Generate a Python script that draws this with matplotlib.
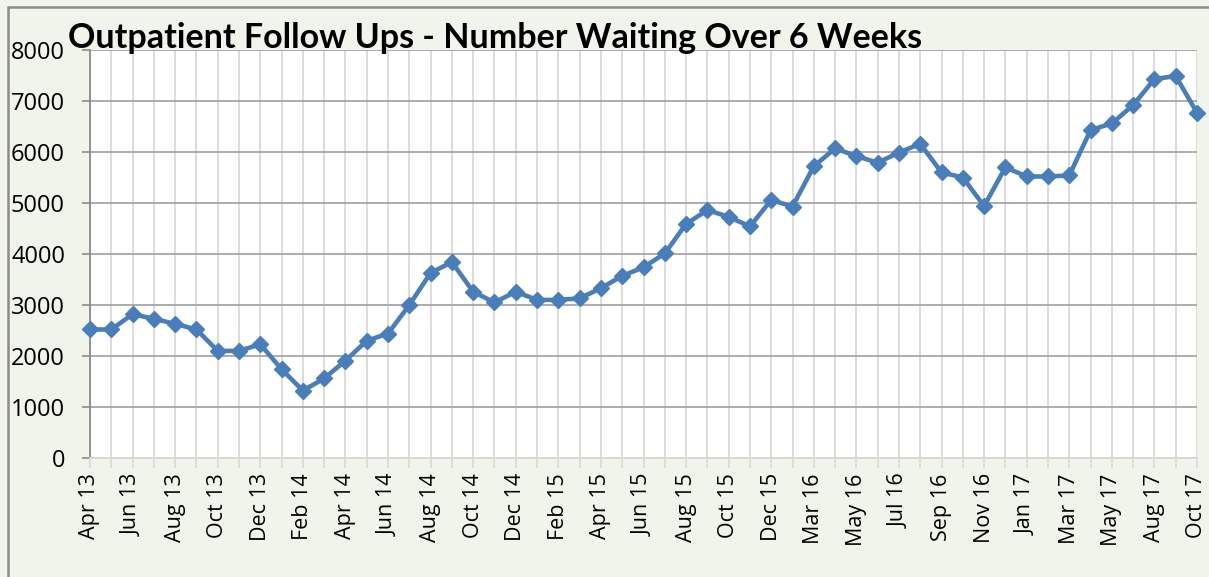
import matplotlib.pyplot as plt
from matplotlib.patches import Rectangle

# Monthly counts of outpatient follow ups waiting over 6 weeks
months = ['Apr 13', 'May 13', 'Jun 13', 'Jul 13', 'Aug 13', 'Sep 13', 'Oct 13', 'Nov 13',
          'Dec 13', 'Jan 14', 'Feb 14', 'Mar 14', 'Apr 14', 'May 14', 'Jun 14', 'Jul 14',
          'Aug 14', 'Sep 14', 'Oct 14', 'Nov 14', 'Dec 14', 'Jan 15', 'Feb 15', 'Mar 15',
          'Apr 15', 'May 15', 'Jun 15', 'Jul 15', 'Aug 15', 'Sep 15', 'Oct 15', 'Nov 15',
          'Dec 15', 'Feb 16', 'Mar 16', 'Apr 16', 'May 16', 'Jun 16', 'Jul 16', 'Aug 16',
          'Sep 16', 'Oct 16', 'Nov 16', 'Dec 16', 'Jan 17', 'Feb 17', 'Mar 17', 'Apr 17',
          'May 17', 'Jul 17', 'Aug 17', 'Sep 17', 'Oct 17']
waiting = [2520, 2520, 2820, 2730, 2630, 2520, 2100, 2100, 2230, 1740,
           1320, 1560, 1910, 2300, 2440, 3000, 3630, 3840, 3260, 3050,
           3260, 3100, 3100, 3130, 3330, 3570, 3740, 4010, 4590, 4860,
           4730, 4540, 5060, 4930, 5720, 6070, 5920, 5790, 5990, 6160,
           5600, 5500, 4940, 5700, 5520, 5520, 5540, 6430, 6560, 6920,
           7430, 7490, 6770]

bg = '#f1f4eb'
blue = '#4a7ebb'

fig = plt.figure(figsize=(12.09, 5.77), dpi=100, facecolor=bg)
fig.patches.append(Rectangle((8 / 1209, -0.1), 1.2, 1.1 - 7 / 577, transform=fig.transFigure,
                             facecolor='none', edgecolor='#8c8c8c', linewidth=1.8))

ax = fig.add_axes([90 / 1209, 1 - 458 / 577, 1107 / 1209, 408 / 577])
ax.set_facecolor('white')

x = list(range(len(months)))
ax.plot(x, waiting, color=blue, linewidth=3.3, marker='D', markersize=8.5,
        markeredgecolor=blue, zorder=3, clip_on=False)

ax.set_xlim(0, len(months) - 1)
ax.set_ylim(0, 8000)
ax.set_yticks(range(0, 8001, 1000))
ax.set_xticks(x)
ax.set_xticklabels([m if i % 2 == 0 else '' for i, m in enumerate(months)],
                   rotation=90, fontsize=15.5, family='Open Sans')
ax.set_yticklabels([str(v) for v in range(0, 8001, 1000)], fontsize=17, family='Open Sans')
ax.tick_params(axis='x', length=7, width=1.2, color='#d9d9d9', pad=4)
ax.tick_params(axis='y', length=6, width=1.2, color='#8c8c8c', pad=12)

ax.grid(axis='x', color='#d9d9d9', linewidth=1.3)
ax.grid(axis='y', color='#a6a6a6', linewidth=1.3)
ax.set_axisbelow(True)
for side in ['top', 'right']:
    ax.spines[side].set_visible(False)
ax.spines['left'].set_color('#8c8c8c')
ax.spines['left'].set_linewidth(1.3)
ax.spines['bottom'].set_color('#d9d9d9')
ax.spines['bottom'].set_linewidth(1.3)

fig.text(68 / 1209, 1 - 48 / 577, 'Outpatient Follow Ups - Number Waiting Over 6 Weeks',
         fontsize=24.5, fontweight='bold', family='Lato', va='baseline', ha='left')

fig.savefig('out.png', dpi=100, facecolor=bg)
